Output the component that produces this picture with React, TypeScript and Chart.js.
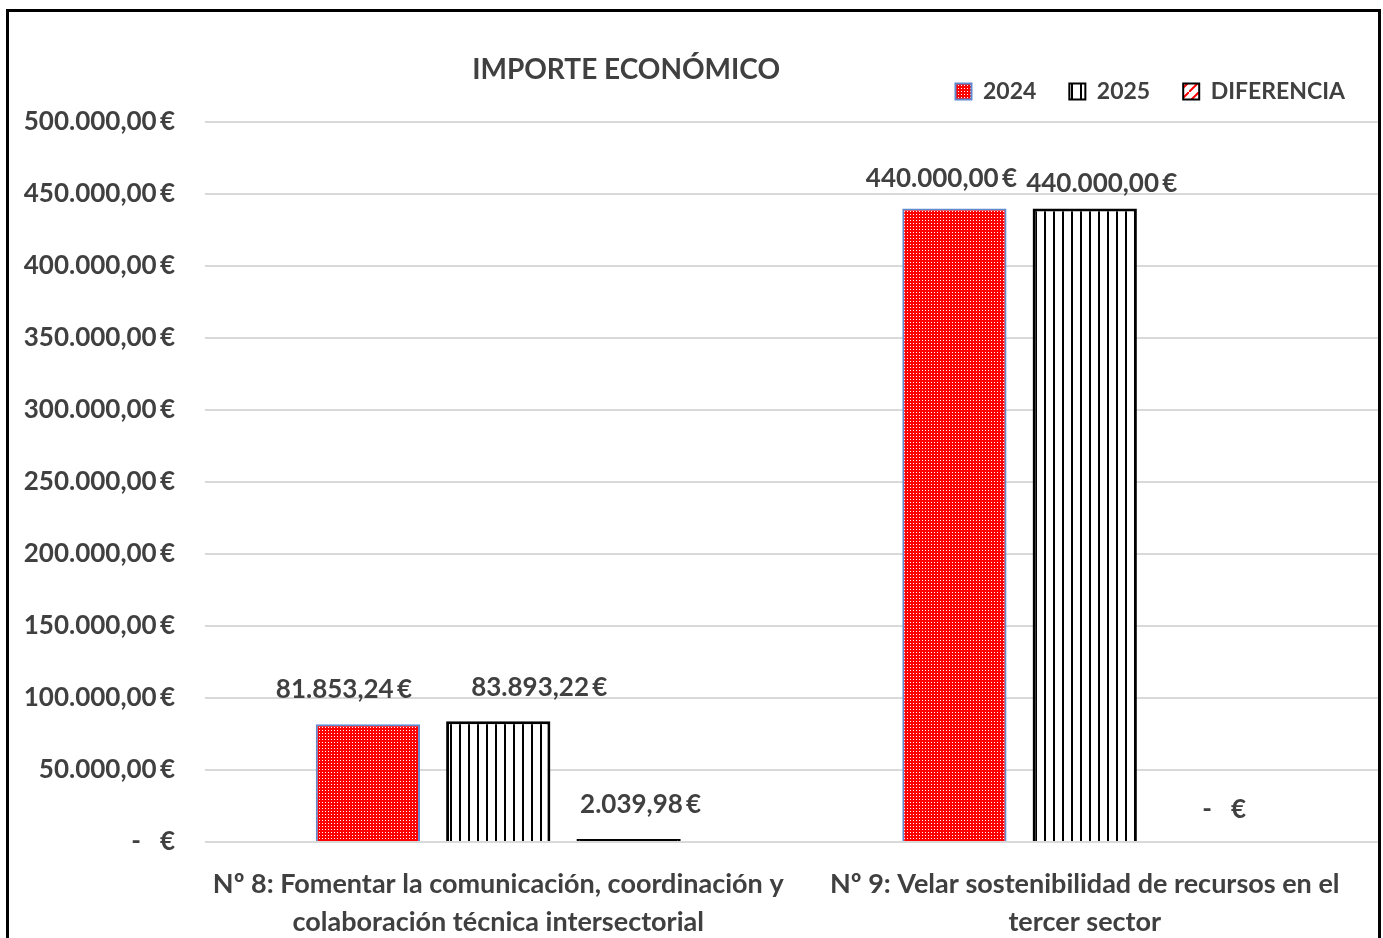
import React, { useEffect, useRef } from 'react';
import { Chart, registerables } from 'chart.js';

Chart.register(...registerables);

// ---- Data ----
const chartTitle = 'IMPORTE ECONÓMICO';
const categories: string[][] = [
  ['Nº 8: Fomentar la comunicación, coordinación y', 'colaboración técnica intersectorial'],
  ['Nº 9: Velar sostenibilidad de recursos en el', 'tercer sector'],
];
const seriesNames = ['2024', '2025', 'DIFERENCIA'];
const values2024 = [81853.24, 440000];
const values2025 = [83893.22, 440000];
const valuesDiff = [2039.98, 0];
const yMin = 0;
const yMax = 500000;
const yStep = 50000;

// ---- Style (label nudges, as placed in the original) ----
const labelOffsets: number[][][] = [
  [[-24, -35], [-13, -30]],
  [[41, -34], [17, -25]],
  [[12, -34], [9, -32]],
];

const FONT = 'Lato, "Open Sans", sans-serif';
const TEXT = '#404040';

function fmtEuro(v: number): string {
  if (v === 0) return '-   €';
  const [i, d] = v.toFixed(2).split('.');
  const ii = i.replace(/\B(?=(\d{3})+(?!\d))/g, '.');
  return ii + ',' + d + '\u2009€';
}

function makePattern(w: number, h: number, draw: (g: CanvasRenderingContext2D) => void) {
  const c = document.createElement('canvas');
  c.width = w;
  c.height = h;
  const g = c.getContext('2d')!;
  draw(g);
  return g.createPattern(c, 'repeat')!;
}

export default function App() {
  const ref = useRef<HTMLCanvasElement | null>(null);

  useEffect(() => {
    document.body.style.margin = '0';
    let chart: Chart | null = null;
    let cancelled = false;

    const build = () => {
      if (cancelled || !ref.current) return;
      const dots = makePattern(3, 3, (g) => {
        g.fillStyle = '#ff0000';
        g.fillRect(0, 0, 3, 3);
        g.fillStyle = '#ffffff';
        g.fillRect(1, 1, 1, 1);
      });
      const vlines = makePattern(9, 4, (g) => {
        g.fillStyle = '#ffffff';
        g.fillRect(0, 0, 9, 4);
        g.fillStyle = '#000000';
        g.fillRect(0, 0, 2, 4);
      });
      const diag = makePattern(10, 10, (g) => {
        g.fillStyle = '#ffffff';
        g.fillRect(0, 0, 10, 10);
        g.strokeStyle = '#ff0000';
        g.lineWidth = 2;
        g.beginPath();
        g.moveTo(0, 10);
        g.lineTo(10, 0);
        g.stroke();
      });
      const legendFills = [dots, vlines, diag];

      const legendSpacer = {
        id: 'legendSpacer',
        beforeLayout(c: any) {
          const lg = c.legend;
          if (lg && !lg._patched) {
            const orig = lg.fit.bind(lg);
            lg.fit = function () {
              orig();
              this.height = 75;
            };
            lg._patched = true;
          }
        },
      };

      const titlePlugin = {
        id: 'freeTitle',
        afterDraw(c: any) {
          const { ctx, chartArea } = c;
          ctx.save();
          ctx.font = `bold 28px ${FONT}`;
          ctx.fillStyle = TEXT;
          ctx.textAlign = 'center';
          ctx.textBaseline = 'middle';
          ctx.fillText(chartTitle, chartArea.left + chartArea.width * 0.359, 58);
          ctx.restore();
        },
      };

      const valueLabels = {
        id: 'valueLabels',
        afterDatasetsDraw(c: any) {
          const { ctx } = c;
          ctx.save();
          ctx.font = `bold 26px ${FONT}`;
          ctx.fillStyle = TEXT;
          ctx.textAlign = 'center';
          ctx.textBaseline = 'middle';
          c.data.datasets.forEach((ds: any, i: number) => {
            const meta = c.getDatasetMeta(i);
            meta.data.forEach((bar: any, j: number) => {
              const [dx, dy] = labelOffsets[i][j];
              ctx.fillText(fmtEuro(ds.data[j]), bar.x + dx, bar.y + dy);
            });
          });
          ctx.restore();
        },
      };

      const defaultGen = (Chart as any).defaults.plugins.legend.labels.generateLabels;

      chart = new Chart(ref.current, {
        type: 'bar',
        data: {
          labels: categories,
          datasets: [
            {
              label: seriesNames[0],
              data: values2024,
              backgroundColor: dots,
              borderColor: '#5f8ad0',
              borderWidth: 2,
            },
            {
              label: seriesNames[1],
              data: values2025,
              backgroundColor: vlines,
              borderColor: '#000000',
              borderWidth: 3,
            },
            {
              label: seriesNames[2],
              data: valuesDiff,
              // the thin bar is covered entirely by its black outline in the original
              backgroundColor: '#000000',
              borderColor: '#000000',
              borderWidth: 3,
            },
          ],
        },
        options: {
          responsive: false,
          animation: false,
          devicePixelRatio: 1,
          layout: { padding: { top: 35, right: 0, left: 0, bottom: 0 } },
          datasets: {
            bar: {
              categoryPercentage: 0.6667,
              barPercentage: 0.8,
              borderSkipped: 'bottom',
            },
          },
          plugins: {
            title: { display: false },
            tooltip: { enabled: false },
            legend: {
              display: true,
              position: 'top',
              align: 'end',
              labels: {
                boxWidth: 16,
                boxHeight: 16,
                padding: 33,
                color: TEXT,
                font: { family: FONT, size: 23, weight: 'bold' },
                generateLabels: (c: any) => {
                  const items = defaultGen(c);
                  items.forEach((it: any, k: number) => {
                    it.fillStyle = legendFills[k];
                    it.lineWidth = 2;
                  });
                  return items;
                },
              },
            },
          },
          scales: {
            x: {
              grid: { display: false, drawTicks: false },
              border: { display: false },
              ticks: {
                color: TEXT,
                font: { family: FONT, size: 27, weight: 'bold', lineHeight: 1.42 },
                padding: 23,
                maxRotation: 0,
                autoSkip: false,
              },
              afterFit(scale: any) {
                scale.height = 96;
              },
            },
            y: {
              min: yMin,
              max: yMax,
              grid: { color: '#d9d9d9', lineWidth: 2, drawTicks: false },
              border: { display: false },
              ticks: {
                stepSize: yStep,
                color: TEXT,
                padding: 30,
                font: { family: FONT, size: 26, weight: 'bold' },
                callback: (v: any) => fmtEuro(Number(v)),
              },
              afterFit(scale: any) {
                scale.width = 196;
              },
            },
          },
        },
        plugins: [legendSpacer, titlePlugin, valueLabels],
      });
    };

    const fonts = (document as any).fonts;
    if (fonts && fonts.load) {
      Promise.all([
        fonts.load(`bold 26px Lato`),
        fonts.load(`bold 24px Lato`),
      ]).then(build, build);
    } else {
      build();
    }

    return () => {
      cancelled = true;
      if (chart) chart.destroy();
    };
  }, []);

  return (
    <div
      style={{
        position: 'absolute',
        left: 6,
        top: 9,
        width: 1375,
        height: 929,
        boxSizing: 'border-box',
        borderTop: '3px solid #000',
        borderLeft: '3px solid #000',
        borderRight: '3px solid #000',
        overflow: 'hidden',
        background: '#fff',
      }}
    >
      <canvas ref={ref} width={1369} height={926} style={{ display: 'block' }} />
    </div>
  );
}
